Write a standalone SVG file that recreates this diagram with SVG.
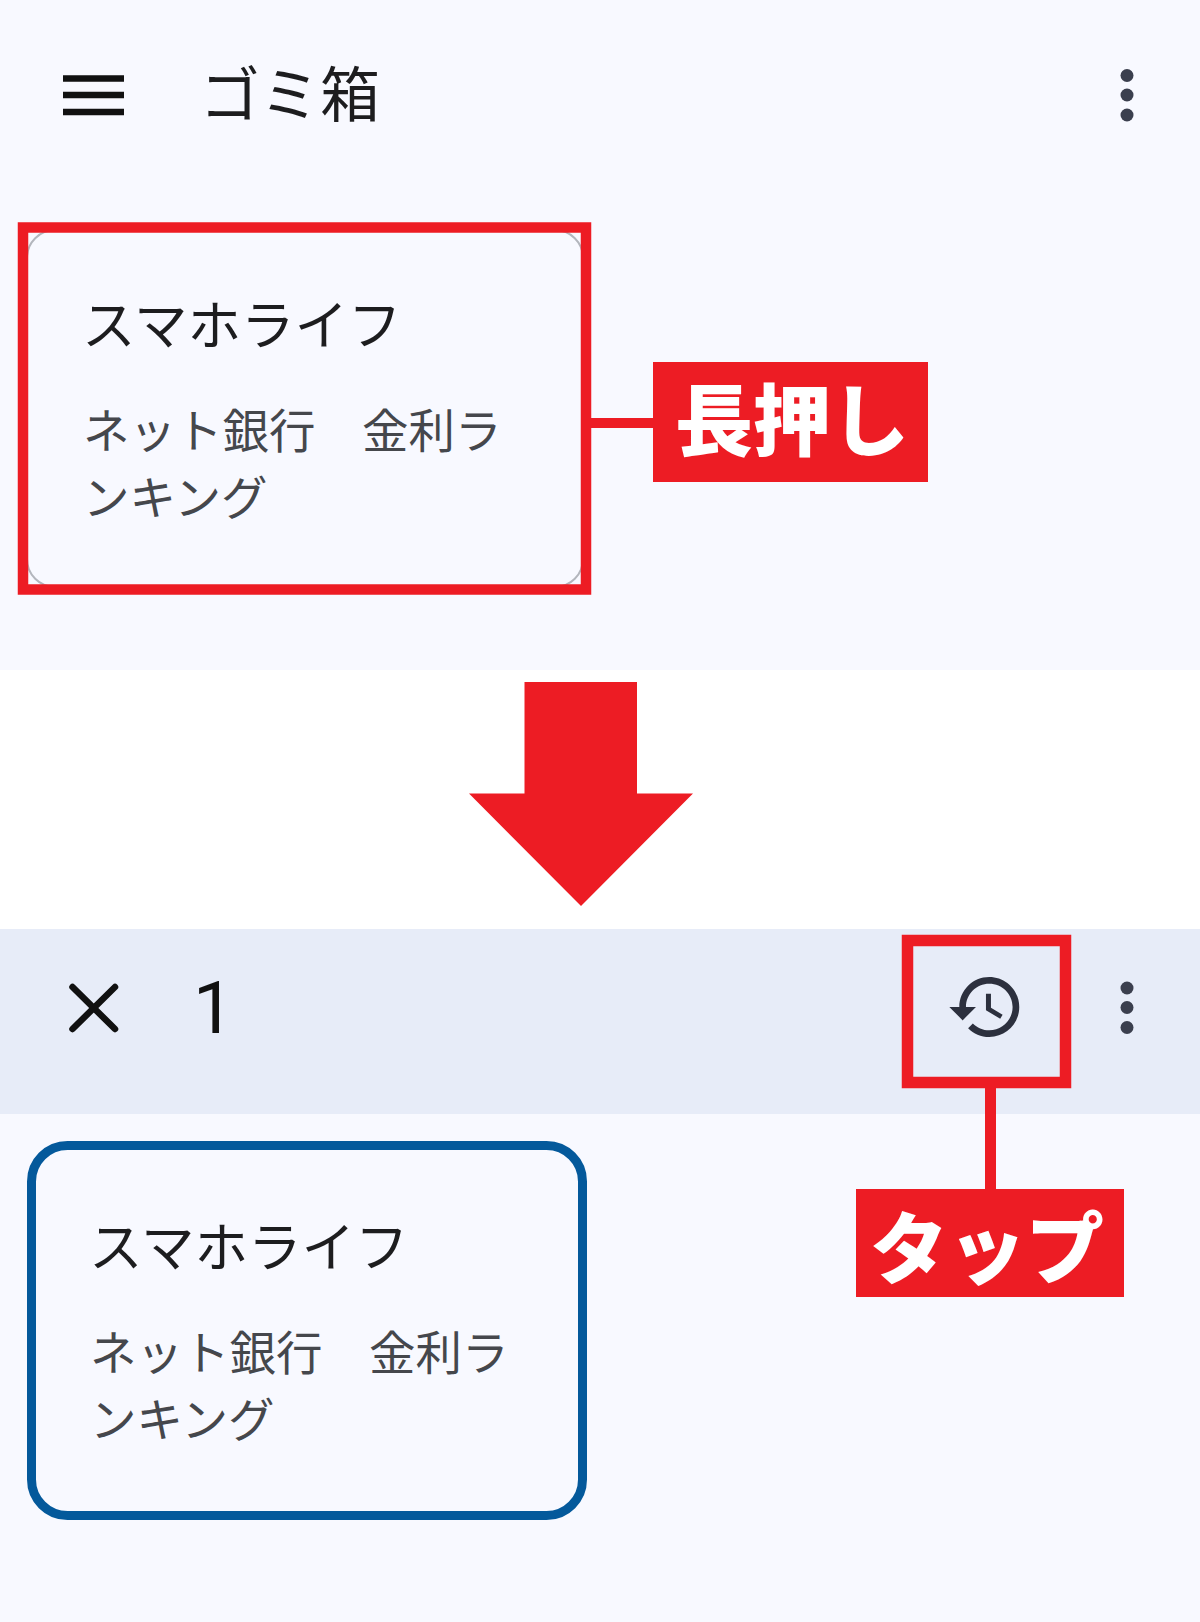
<svg xmlns="http://www.w3.org/2000/svg" width="1200" height="1622" viewBox="0 0 1200 1622">
<style>
.jp{font-family:"Noto Sans CJK JP","Noto Sans",sans-serif}
.title{font-size:53.500px;fill:#1d1d1f}
.sub{font-size:46.500px;fill:#45474c}
.label{font-size:78px;font-weight:900;fill:#fff}
.red{fill:none;stroke:#ed1c24}
.dot{fill:#3b3f4e}
</style>
<defs>
<g id="dots"><circle cx="0" cy="0" r="6.500" class="dot"/><circle cx="0" cy="19.500" r="6.500" class="dot"/><circle cx="0" cy="39.500" r="6.500" class="dot"/></g>
</defs>
<rect width="1200" height="1622" fill="#fff"/>
<rect width="1200" height="670" fill="#f8f9ff"/>
<rect y="1114" width="1200" height="508" fill="#f8f9ff"/>
<rect y="929" width="1200" height="185" fill="#e7ecf8"/>

<g id="top-bar">
<path d="M63 78.500H124M63 95H124M63 112H124" stroke="#111" stroke-width="6.500" fill="none"/>
<text class="jp" x="200" y="117" font-size="60" fill="#1d1d1f">ゴミ箱</text>
<use href="#dots" x="1127" y="75.500"/>
</g>

<g id="card-before">
<rect x="27" y="230" width="556" height="357" rx="28" fill="#f8f9ff" stroke="#b3b6bd" stroke-width="2"/>
<rect x="23" y="227.500" width="563" height="362" class="red" stroke-width="10.500"/>
<text class="jp title" x="82" y="345">スマホライフ</text>
<text class="jp sub" x="83" y="448">ネット銀行　金利ラ</text>
<text class="jp sub" x="83" y="515">ンキング</text>
</g>

<g id="label-long-press">
<rect x="653" y="362" width="275" height="120" fill="#ed1c24"/>
<text class="jp label" x="675" y="450">長押し</text>
</g>

<g id="down-arrow">
<path d="M524.500 682H637V793.500H693L581 906L469 793.500H524.500Z" fill="#ed1c24"/>
</g>

<g id="action-bar">
<path d="M72.500 987L115 1029M115 987L72.500 1029" stroke="#111" stroke-width="6.500" fill="none" stroke-linecap="round"/>
<text x="193" y="1033" font-family="Roboto,'Liberation Sans',sans-serif" font-size="73" fill="#111">1</text>
<use href="#dots" x="1127" y="988"/>
</g>

<g id="restore-button">
<rect x="907.500" y="940.500" width="158" height="142" class="red" stroke-width="11.500"/>
<path transform="translate(946 967) scale(3.330)" fill="#2c303e" d="M13 3c-4.970 0-9 4.030-9 9H1l3.890 3.890.07.140L9 12H6c0-3.870 3.130-7 7-7s7 3.130 7 7-3.130 7-7 7c-1.930 0-3.680-.790-4.940-2.060l-1.420 1.420C8.270 19.990 10.510 21 13 21c4.970 0 9-4.030 9-9s-4.030-9-9-9zm-1 5v5l4.280 2.540.720-1.210-3.500-2.080V8H12z"/>
</g>

<g id="label-tap">
<rect x="856" y="1189" width="268" height="108" fill="#ed1c24"/>
<text class="jp label" x="870" y="1278">タップ</text>
</g>

<g id="card-after">
<rect x="31.500" y="1145.500" width="551" height="370" rx="36" fill="#f8f9ff" stroke="#04599b" stroke-width="9"/>
<text class="jp title" x="89" y="1267">スマホライフ</text>
<text class="jp sub" x="90" y="1370">ネット銀行　金利ラ</text>
<text class="jp sub" x="90" y="1437">ンキング</text>
</g>

<g id="connectors">
<path d="M591 423H653" class="red" stroke-width="10"/>
<path d="M990.500 1088V1189" class="red" stroke-width="11"/>
</g>
</svg>
